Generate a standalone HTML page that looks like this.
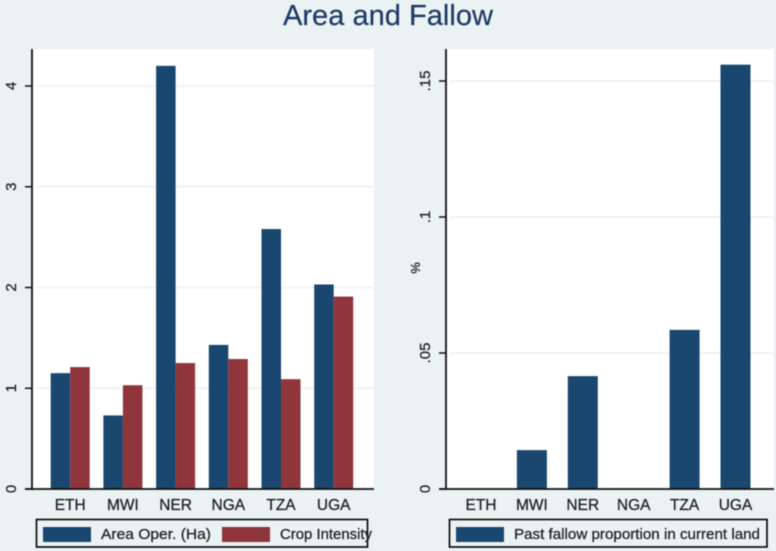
<!DOCTYPE html>
<html lang="en">
<head>
<meta charset="utf-8">
<title>Area and Fallow</title>
<style>
html,body{margin:0;padding:0;background:#eaf2f3;}
body{width:776px;height:551px;overflow:hidden;}
svg{display:block;filter:blur(0.5px);}
text{font-family:"Liberation Sans",sans-serif;stroke:#222;stroke-width:0.25px;}
#chart-title-text{stroke:#1e3a68;stroke-width:0.2px;}
</style>
</head>
<body>
<svg id="figure" xmlns="http://www.w3.org/2000/svg" width="776" height="551" viewBox="0 0 776 551">
  <rect x="0" y="0" width="776" height="551" fill="#eaf2f3"/>
  <text id="chart-title-text" x="388" y="25" text-anchor="middle" font-size="29" fill="#1e3a68" textLength="210" lengthAdjust="spacingAndGlyphs">Area and Fallow</text>

  <g id="left-panel">
    <rect x="32" y="49" width="342" height="440" fill="#ffffff"/>
    <g id="left-grid"></g>
    <g id="left-bars"></g>
    <g id="left-axes"></g>
    <g>
      <rect x="36.5" y="519.5" width="331" height="27.5" fill="none" stroke="#000" stroke-width="1.6"/>
      <rect x="43" y="527" width="48" height="15" fill="#1a476f"/>
      <text x="101" y="539" font-size="14.5" fill="#222" textLength="110" lengthAdjust="spacingAndGlyphs">Area Oper. (Ha)</text>
      <rect x="222" y="527" width="48" height="15" fill="#90353b"/>
      <text x="280" y="539" font-size="14.5" fill="#222" textLength="92" lengthAdjust="spacingAndGlyphs">Crop Intensity</text>
    </g>
  </g>

  <g id="right-panel">
    <rect x="446" y="49" width="328" height="440" fill="#ffffff"/>
    <g id="right-grid"></g>
    <g id="right-bars"></g>
    <g id="right-axes"></g>
    <text transform="translate(420,268) rotate(-90)" text-anchor="middle" font-size="13" fill="#222">%</text>
    <g>
      <rect x="449.5" y="519.5" width="317.5" height="27.5" fill="none" stroke="#000" stroke-width="1.6"/>
      <rect x="456" y="527" width="48" height="15" fill="#1a476f"/>
      <text x="514" y="539" font-size="14.5" fill="#222" textLength="246" lengthAdjust="spacingAndGlyphs">Past fallow proportion in current land</text>
    </g>
  </g>
</svg>
<script>
const categories = ["ETH", "MWI", "NER", "NGA", "TZA", "UGA"];
const areaOperated = [1.15, 0.73, 4.2, 1.43, 2.58, 2.03];
const cropIntensity = [1.21, 1.03, 1.25, 1.29, 1.09, 1.91];
const fallowProportion = [0, 0.0143, 0.0415, 0, 0.0585, 0.156];
const leftTicks = [0, 1, 2, 3, 4];
const leftTickLabels = ["0", "1", "2", "3", "4"];
const rightTicks = [0, 0.05, 0.1, 0.15];
const rightTickLabels = ["0", ".05", ".1", ".15"];

const SVG_NS = "http://www.w3.org/2000/svg";
const BASE_Y = 489;
const BLUE = "#1a476f";
const RED = "#90353b";

function yLeft(v) { return BASE_Y - v * 100.75; }
function yRight(v) { return BASE_Y - v * 2720; }
function xLeft(i) { return 70.2 + i * 52.7; }
function xRight(i) { return 481 + i * 50.9; }

function make(tag, attrs, parent) {
  const el = document.createElementNS(SVG_NS, tag);
  for (const k in attrs) el.setAttribute(k, attrs[k]);
  parent.appendChild(el);
  return el;
}

function drawAxes(gridG, axesG, panel, ticks, labels, yFn, axisX, plotRight, labelX) {
  ticks.forEach(function (t, i) {
    if (t !== 0) {
      const grid = make("line", { x1: axisX + 4, x2: plotRight, y1: yFn(t), y2: yFn(t), stroke: "#eaf2f3", "stroke-width": 1.4 }, gridG);
      
      
    }
    const tick = make("line", { x1: axisX - 7, x2: axisX, y1: yFn(t), y2: yFn(t), stroke: "#111", "stroke-width": 1.5 }, axesG);
    
    
    const lab = make("text", { transform: "translate(" + labelX + "," + yFn(t) + ") rotate(-90)", "text-anchor": "middle", "font-size": 15, fill: "#222" }, axesG);
    
    
    lab.textContent = labels[i];
  });
  const yAxis = make("line", { x1: axisX, x2: axisX, y1: 49, y2: BASE_Y + 1, stroke: "#111", "stroke-width": 1.8 }, axesG);
  
  
  const xAxis = make("line", { x1: axisX - 7, x2: plotRight, y1: BASE_Y, y2: BASE_Y, stroke: "#111", "stroke-width": 1.8 }, axesG);
  
  
}

function drawCategoryLabels(axesG, xFn) {
  categories.forEach(function (c, i) {
    const lab = make("text", { x: xFn(i), y: 510, "text-anchor": "middle", "font-size": 15.5, fill: "#222" }, axesG);
    
    
    lab.textContent = c;
  });
}

function drawBar(parent, x, width, value, yFn, color) {
  const top = yFn(value);
  const bar = make("rect", { x: x, y: top, width: width, height: BASE_Y - top, fill: color }, parent);
  
  
}

const leftBars = document.getElementById("left-bars");
categories.forEach(function (c, i) {
  drawBar(leftBars, xLeft(i) - 19.5, 19.5, areaOperated[i], yLeft, BLUE);
  drawBar(leftBars, xLeft(i), 19.5, cropIntensity[i], yLeft, RED);
});

const rightBars = document.getElementById("right-bars");
categories.forEach(function (c, i) {
  if (fallowProportion[i] > 0) {
    drawBar(rightBars, xRight(i) - 15, 30, fallowProportion[i], yRight, BLUE);
  }
});

const leftAxes = document.getElementById("left-axes");
const rightAxes = document.getElementById("right-axes");
drawAxes(document.getElementById("left-grid"), leftAxes, "left", leftTicks, leftTickLabels, yLeft, 32, 374, 16);
drawAxes(document.getElementById("right-grid"), rightAxes, "right", rightTicks, rightTickLabels, yRight, 446, 774, 430);
drawCategoryLabels(leftAxes, xLeft);
drawCategoryLabels(rightAxes, xRight);
</script>
</body>
</html>
